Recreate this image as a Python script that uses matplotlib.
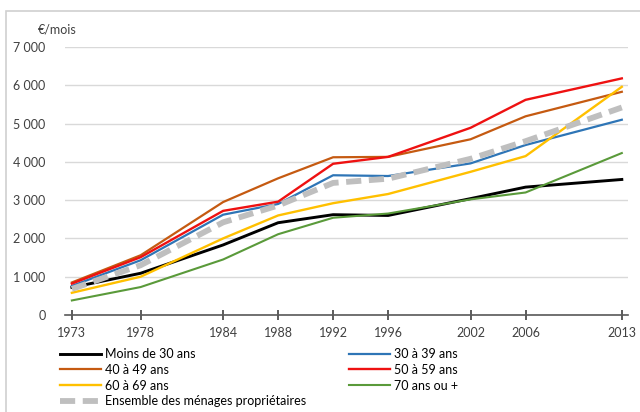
import matplotlib.pyplot as plt
from matplotlib.patches import Rectangle
from matplotlib.ticker import FuncFormatter

# Data
years = [1973, 1978, 1984, 1988, 1992, 1996, 2002, 2006, 2013]
moins_30 = [720, 1090, 1830, 2410, 2620, 2600, 3040, 3340, 3540]
ans_30_39 = [760, 1430, 2620, 2900, 3650, 3630, 3960, 4440, 5100]
ans_40_49 = [850, 1560, 2950, 3570, 4120, 4130, 4590, 5190, 5830]
ans_50_59 = [820, 1510, 2720, 2960, 3950, 4130, 4890, 5620, 6180]
ans_60_69 = [580, 1000, 2000, 2600, 2920, 3160, 3740, 4150, 5960]
ans_70_plus = [380, 730, 1450, 2110, 2540, 2650, 3020, 3200, 4230]
ensemble = [680, 1300, 2420, 2860, 3450, 3560, 4080, 4540, 5420]

series = [
    ('Moins de 30 ans', moins_30, '#000000', 2.1),
    ('30 à 39 ans', ans_30_39, '#2e75b6', 1.6),
    ('40 à 49 ans', ans_40_49, '#c55a11', 1.6),
    ('50 à 59 ans', ans_50_59, '#ee1111', 1.7),
    ('60 à 69 ans', ans_60_69, '#ffc000', 1.7),
    ('70 ans ou +', ans_70_plus, '#5a9a3a', 1.5),
]

plt.rcParams['font.family'] = ['Lato', 'DejaVu Sans']

fig = plt.figure(figsize=(6.4, 4.12), dpi=100)
fig.patches.append(Rectangle((6 / 640, -0.1), 1.1, (412 - 11) / 412 + 0.1,
                             transform=fig.transFigure, fill=False,
                             edgecolor='#d0d0d0', linewidth=1.2))

ax = fig.add_axes([65 / 640, (412 - 315) / 412, 563 / 640, (315 - 47) / 412])

lines = {}
for label, values, color, lw in series:
    lines[label], = ax.plot(years, values, color=color, linewidth=lw,
                            label=label, solid_joinstyle='round')
lines['Ensemble'], = ax.plot(years, ensemble, color='#bfbfbf', linewidth=4.2,
                             dashes=(2.6, 1.3), label='Ensemble des ménages propriétaires',
                             zorder=2.5)

ax.set_xlim(1972.5, 2013.45)
ax.set_ylim(0, 7000)
ax.set_xticks(years)
ax.set_yticks(range(0, 7001, 1000))
ax.yaxis.set_major_formatter(FuncFormatter(lambda v, p: f'{int(v):,}'.replace(',', ' ')))
ax.grid(axis='y', color='#d9d9d9', linewidth=1)
ax.set_axisbelow(True)
for s in ['top', 'right', 'left']:
    ax.spines[s].set_visible(False)
ax.spines['bottom'].set_color('#595959')
ax.spines['bottom'].set_linewidth(1.2)
ax.tick_params(axis='x', direction='inout', length=7, width=1.2, color='#404040',
               labelsize=9, labelcolor='#404040', pad=5)
ax.tick_params(axis='y', length=0, labelsize=9, labelcolor='#404040', pad=14)

fig.text(38 / 640, 1 - 30 / 412, '€/mois', fontsize=9, color='#404040', va='center')

handles = [lines['Moins de 30 ans'], lines['40 à 49 ans'], lines['60 à 69 ans'],
           lines['Ensemble'], lines['30 à 39 ans'], lines['50 à 59 ans'],
           lines['70 ans ou +']]
fig.legend(handles=handles, labels=[h.get_label() for h in handles], ncol=2,
           loc='upper left', bbox_to_anchor=(60 / 640, 1 - 348 / 412),
           frameon=False, fontsize=9, handlelength=3.3, handletextpad=0.3,
           labelspacing=0.3, columnspacing=3.4, borderpad=0, borderaxespad=0)

fig.savefig('out.png', dpi=100)
